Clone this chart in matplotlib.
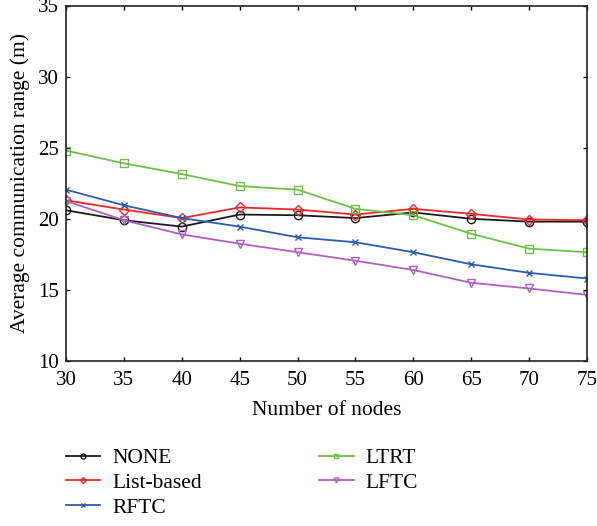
import matplotlib.pyplot as plt

# Data
nodes = [30, 35, 40, 45, 50, 55, 60, 65, 70, 75]
none_vals = [20.6, 19.9, 19.45, 20.3, 20.25, 20.05, 20.45, 20.0, 19.8, 19.8]
list_based = [21.3, 20.65, 20.05, 20.8, 20.65, 20.3, 20.7, 20.35, 19.95, 19.9]
rftc = [22.05, 20.95, 20.05, 19.45, 18.7, 18.35, 17.65, 16.8, 16.2, 15.8]
ltrt = [24.8, 23.9, 23.15, 22.3, 22.05, 20.7, 20.25, 18.95, 17.9, 17.65]
lftc = [21.25, 19.9, 18.9, 18.25, 17.65, 17.05, 16.4, 15.5, 15.1, 14.65]

x_ticks = [30, 35, 40, 45, 50, 55, 60, 65, 70, 75]
y_ticks = [10, 15, 20, 25, 30, 35]

plt.rcParams['font.family'] = ['Liberation Serif', 'DejaVu Serif']

fig = plt.figure(figsize=(5.97, 5.26), dpi=100)
ax = fig.add_axes([66 / 597, 1 - 361 / 526, (587 - 66) / 597, (361 - 5.5) / 526])

series = [
    ('NONE', none_vals, '#1a1a1a', 'o'),
    ('List-based', list_based, '#f0282a', 'D'),
    ('RFTC', rftc, '#2a5db0', 'x'),
    ('LTRT', ltrt, '#6cc04a', 's'),
    ('LFTC', lftc, '#b060c0', 'v'),
]

for name, vals, color, marker in series:
    ms = 6 if marker != 'x' else 4
    if marker == 'D':
        ms = 5
    ax.plot(nodes, vals, color=color, marker=marker, markersize=ms,
            markerfacecolor='none', markeredgecolor=color,
            markeredgewidth=1.0, linewidth=1.3, label=name)

ax.set_xlim(30, 75)
ax.set_ylim(10, 35)
ax.set_xticks(x_ticks)
ax.set_yticks(y_ticks)
ax.tick_params(direction='in', top=True, right=True, length=3,
               labelsize=15, width=1)
ax.tick_params(axis='x', pad=7)
ax.tick_params(axis='y', pad=5)
for s in ax.spines.values():
    s.set_linewidth(1.2)
    s.set_color('#222222')

ax.set_xlabel('Number of nodes', fontsize=15.5, labelpad=8)
ax.set_ylabel('Average communication range (m)', fontsize=15.5, labelpad=6)

# legend below, arranged in two columns (3 + 2)
handles, labels = ax.get_legend_handles_labels()
fig.legend(handles, labels, loc='upper left', bbox_to_anchor=(0.078, 0.185),
           ncol=2, frameon=False, fontsize=15.5, handlelength=1.6,
           columnspacing=5.45, labelspacing=0.22, handletextpad=0.55,
           markerscale=0.6)

plt.savefig('out.png', dpi=100)
plt.close()
